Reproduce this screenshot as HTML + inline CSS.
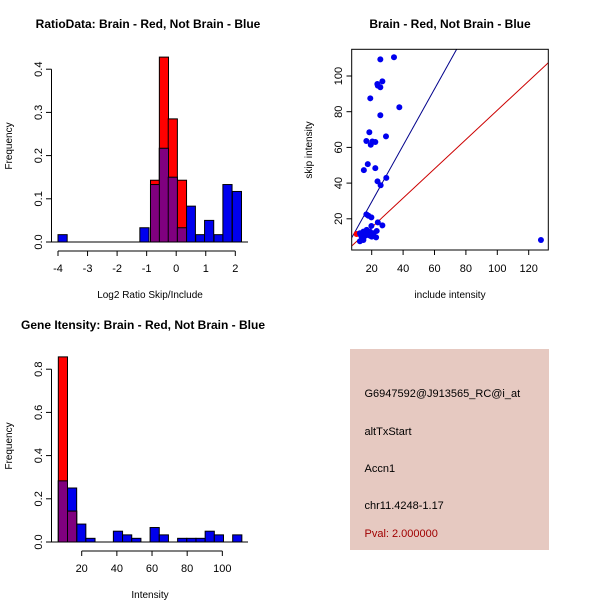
<!DOCTYPE html>
<html><head><meta charset="utf-8"><style>
html,body{margin:0;padding:0;background:#fff;}
svg{display:block;font-family:"Liberation Sans",Arial,sans-serif;}
</style></head><body>
<svg id="c" width="600" height="600" viewBox="0 0 600 600"></svg>
<script>
// ---- Panel 1: ratio histogram ----
const ratioEdges = [-4.0, -1.23, -0.87, -0.57, -0.27, 0.04, 0.34, 0.66, 0.96, 1.28, 1.58, 1.9];
const ratioBlue  = [0.017, 0.033, 0.133, 0.217, 0.15, 0.033, 0.083, 0.017, 0.05, 0.017, 0.133, 0.117];
const ratioRed   = [0, 0, 0.143, 0.428, 0.285, 0.143, 0, 0, 0, 0, 0, 0];
const ratioBinW = 0.31;
const ratioXTicks = [-4, -3, -2, -1, 0, 1, 2];
const ratioYTicks = [0.0, 0.1, 0.2, 0.3, 0.4];
// ---- Panel 2: scatter ----
const scatX = [34.2,25.5,26.8,23.6,23.9,25.5,19.1,37.6,25.5,18.5,29.1,16.6,20.4,22.3,19.4,17.5,15.0,22.3,29.3,23.7,25.7,16.6,17.9,19.8,23.9,26.8,19.8,12.5,14.7,16.8,18.9,21.1,23.2,13.6,15.7,17.9,20.0,22.8,12.5,14.7,127.8,13.0,16.0,19.0];
const scatY = [110.5,109.3,97,95.5,94.6,93.7,87.5,82.5,78,68.5,66.2,63.6,63.3,63,61.5,50.6,47.3,48.4,42.9,41.0,38.8,22.5,21.7,20.8,18,16.3,16,11.9,12.8,13.8,12.8,11.9,13.2,10,10.4,10.9,10,9.6,7.4,8.1,8.1,11.0,11.5,10.5];
const redPtX = [10.4];
const redPtY = [11.5];
const blueLine = [-2.1, 1.58]; // intercept, slope
const redLine = [-1.2, 0.82];
const scatXTicks = [20, 40, 60, 80, 100, 120];
const scatYTicks = [20, 40, 60, 80, 100];
// ---- Panel 3: intensity histogram ----
const intStart = 6.7, intBinW = 5.22;
const intBlue = [0.283,0.25,0.083,0.017,0,0,0.05,0.033,0.017,0,0.067,0.033,0,0.017,0.017,0.017,0.05,0.033,0,0.033];
const intRed  = [0.857,0.143,0,0,0,0,0,0,0,0,0,0,0,0,0,0,0,0,0,0];
const intXTicks = [20, 40, 60, 80, 100];
const intYTicks = [0.0, 0.2, 0.4, 0.6, 0.8];

const svg = document.getElementById('c');
const NS = 'http://www.w3.org/2000/svg';
function mk(tag, attrs, parent) {
  const e = document.createElementNS(NS, tag);
  for (const k in attrs) e.setAttribute(k, attrs[k]);
  (parent || svg).appendChild(e);
  return e;
}
function txt(s, x, y, opts, parent) {
  const t = mk('text', Object.assign({x: x, y: y, 'font-size': 11, 'text-anchor': 'middle', fill: '#000'}, opts || {}), parent);
  t.textContent = s;
  return t;
}

// Panel 1
(function(){
  const g = mk('g', {});
  
  
  const sx = v => 58 + (v + 4) * 29.55;
  const sy = v => 242 - v * 432;
  function bars(vals, fill, name) {
    vals.forEach((v, i) => {
      if (v <= 0) return;
      const r = mk('rect', {x: sx(ratioEdges[i]), y: sy(v), width: sx(ratioEdges[i] + ratioBinW) - sx(ratioEdges[i]), height: sy(0) - sy(v), fill: fill, stroke: '#000', 'stroke-width': 1}, g);
      
      
    });
  }
  bars(ratioBlue, '#0000ee', 'ratio-blue-bar');
  bars(ratioRed, '#ff0000', 'ratio-red-bar');
  bars(ratioBlue.map((v, i) => Math.min(v, ratioRed[i])), '#80007f', 'ratio-overlap-bar');
  mk('line', {x1: 48, y1: 242, x2: 248, y2: 242, stroke: '#000'}, g);
  mk('line', {x1: sx(-4), y1: 251, x2: sx(2), y2: 251, stroke: '#000'}, g);
  ratioXTicks.forEach(t => { mk('line', {x1: sx(t), y1: 251, x2: sx(t), y2: 256, stroke: '#000'}, g); txt(String(t), sx(t), 272, {}, g); });
  mk('line', {x1: 51.5, y1: sy(0), x2: 51.5, y2: sy(0.4), stroke: '#000'}, g);
  ratioYTicks.forEach(t => { mk('line', {x1: 46, y1: sy(t), x2: 51.5, y2: sy(t), stroke: '#000'}, g); txt(t.toFixed(1), 38, sy(t) + 4, {transform: 'rotate(-90 38 ' + sy(t) + ')'}, g); });
  txt('Frequency', 12, 146, {transform: 'rotate(-90 12 146)', 'font-size': 10}, g);
  txt('Log2 Ratio Skip/Include', 150, 298, {'font-size': 10}, g);
  txt('RatioData: Brain - Red, Not Brain - Blue', 148, 28, {'font-weight': 'bold', 'font-size': 12}, g);
})();

// Panel 2
(function(){
  const g = mk('g', {});
  
  
  const sx = v => 371.7 + (v - 20) * 1.57;
  const sy = v => 76 + (100 - v) * 1.785;
  const cp = mk('clipPath', {id: 'cp2'}, g);
  mk('rect', {x: 351.7, y: 49.3, width: 196.6, height: 200.7}, cp);
  const lg = mk('g', {'clip-path': 'url(#cp2)'}, g);
  const x0 = 0, x1 = 140;
  const bl = mk('line', {x1: sx(x0), y1: sy(blueLine[0] + blueLine[1] * x0), x2: sx(x1), y2: sy(blueLine[0] + blueLine[1] * x1), stroke: '#00008b', 'stroke-width': 1}, lg);
  
  
  const rl = mk('line', {x1: sx(x0), y1: sy(redLine[0] + redLine[1] * x0), x2: sx(x1), y2: sy(redLine[0] + redLine[1] * x1), stroke: '#cc0000', 'stroke-width': 1}, lg);
  
  
  redPtX.forEach((v, i) => {
    const c = mk('circle', {cx: sx(v), cy: sy(redPtY[i]), r: 3, fill: '#ff0000'}, lg);
    
    
  });
  scatX.forEach((v, i) => {
    const c = mk('circle', {cx: sx(v), cy: sy(scatY[i]), r: 3, fill: '#0000ee'}, lg);
    
    
  });
  mk('rect', {x: 351.7, y: 49.3, width: 196.6, height: 200.7, fill: 'none', stroke: '#000'}, g);
  scatXTicks.forEach(t => { mk('line', {x1: sx(t), y1: 250, x2: sx(t), y2: 255, stroke: '#000'}, g); txt(String(t), sx(t), 272, {}, g); });
  scatYTicks.forEach(t => { mk('line', {x1: 346.5, y1: sy(t), x2: 351.7, y2: sy(t), stroke: '#000'}, g); txt(String(t), 338, sy(t) + 4, {transform: 'rotate(-90 338 ' + sy(t) + ')'}, g); });
  txt('include intensity', 450, 298, {'font-size': 10}, g);
  txt('skip intensity', 312, 150, {transform: 'rotate(-90 312 150)', 'font-size': 10}, g);
  txt('Brain - Red, Not Brain - Blue', 450, 28, {'font-weight': 'bold', 'font-size': 12}, g);
})();

// Panel 3
(function(){
  const g = mk('g', {});
  
  
  const sx = v => 81.7 + (v - 20) * 1.758;
  const sy = v => 542 - v * 216;
  function bars(vals, fill, name) {
    vals.forEach((v, i) => {
      if (v <= 0) return;
      const l = intStart + i * intBinW;
      const r = mk('rect', {x: sx(l), y: sy(v), width: sx(l + intBinW) - sx(l), height: sy(0) - sy(v), fill: fill, stroke: '#000', 'stroke-width': 1}, g);
      
      
    });
  }
  bars(intBlue, '#0000ee', 'intensity-blue-bar');
  bars(intRed, '#ff0000', 'intensity-red-bar');
  bars(intBlue.map((v, i) => Math.min(v, intRed[i])), '#80007f', 'intensity-overlap-bar');
  mk('line', {x1: 48, y1: 542, x2: 248, y2: 542, stroke: '#000'}, g);
  mk('line', {x1: sx(20), y1: 551, x2: sx(100), y2: 551, stroke: '#000'}, g);
  intXTicks.forEach(t => { mk('line', {x1: sx(t), y1: 551, x2: sx(t), y2: 556, stroke: '#000'}, g); txt(String(t), sx(t), 572, {}, g); });
  mk('line', {x1: 51.5, y1: sy(0), x2: 51.5, y2: sy(0.8), stroke: '#000'}, g);
  intYTicks.forEach(t => { mk('line', {x1: 46, y1: sy(t), x2: 51.5, y2: sy(t), stroke: '#000'}, g); txt(t.toFixed(1), 38, sy(t) + 4, {transform: 'rotate(-90 38 ' + sy(t) + ')'}, g); });
  txt('Frequency', 12, 446, {transform: 'rotate(-90 12 446)', 'font-size': 10}, g);
  txt('Intensity', 150, 598, {'font-size': 10}, g);
  txt('Gene Itensity: Brain - Red, Not Brain - Blue', 143, 329, {'font-weight': 'bold', 'font-size': 12}, g);
})();

// Panel 4: info box
(function(){
  const g = mk('g', {});
  
  
  mk('rect', {x: 350, y: 349, width: 199, height: 201, fill: '#e6c9c1'}, g);
  txt('G6947592@J913565_RC@i_at', 364.5, 397, {'text-anchor': 'start'}, g);
  txt('altTxStart', 364.5, 435, {'text-anchor': 'start'}, g);
  txt('Accn1', 364.5, 472, {'text-anchor': 'start'}, g);
  txt('chr11.4248-1.17', 364.5, 509, {'text-anchor': 'start'}, g);
  txt('Pval: 2.000000', 364.5, 537, {'text-anchor': 'start', fill: '#a00000'}, g);
})();
</script>
</body></html>
